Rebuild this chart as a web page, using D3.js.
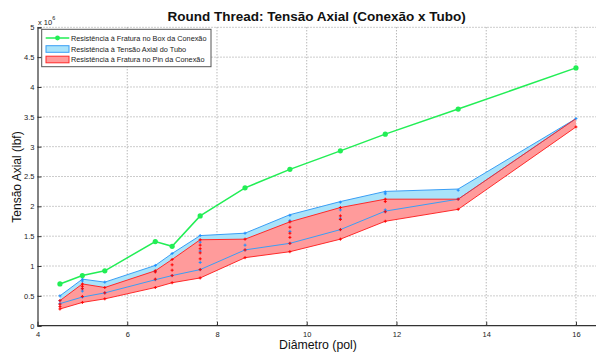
<!DOCTYPE html>
<html><head><meta charset="utf-8">
<script src="https://cdn.jsdelivr.net/npm/d3@7"></script>
<style>html,body{margin:0;padding:0;background:#fff;}svg{display:block;font-family:"Liberation Sans",Arial,sans-serif;}</style>
</head><body><svg id="c" width="596" height="354"></svg>
<script>
// values in units of 10^6 lbf
const diametros = [4.5, 5, 5.5, 6.625, 7, 7.625, 8.625, 9.625, 10.75, 11.75, 13.375, 16];
const boxFratura = [0.70, 0.84, 0.92, 1.41, 1.33, 1.84, 2.31, 2.62, 2.93, 3.21, 3.63, 4.32];
const tuboMax = [0.50, 0.78, 0.73, 1.01, 1.21, 1.51, 1.55, 1.86, 2.08, 2.25, 2.29, 3.47];
const tuboMin = [0.37, 0.48, 0.55, 0.77, 0.84, 0.94, 1.27, 1.38, 1.61, 1.92, 2.12, 3.47];
const pinMax = [0.42, 0.70, 0.64, 0.92, 1.11, 1.44, 1.45, 1.74, 1.98, 2.12, 2.12, 3.47];
const pinMin = [0.28, 0.39, 0.45, 0.64, 0.72, 0.80, 1.14, 1.24, 1.45, 1.75, 1.95, 3.33];
const pinPontos = [
  [0.28, 0.32, 0.36, 0.42], [0.39, 0.49, 0.62, 0.66, 0.70], [0.45, 0.55, 0.64],
  [0.64, 0.78, 0.90, 0.92], [0.72, 0.84, 0.93, 1.02, 1.11], [0.80, 0.94, 1.12, 1.22, 1.29, 1.35, 1.44],
  [1.14, 1.27, 1.45], [1.24, 1.38, 1.48, 1.55, 1.65, 1.74], [1.45, 1.61, 1.78, 1.84, 1.98],
  [1.75, 1.91, 2.08, 2.12], [1.95, 2.12], [3.33]
];
const tuboPontos = [
  [0.37, 0.42, 0.50], [0.48, 0.58, 0.62, 0.75, 0.78], [0.55, 0.73],
  [0.77, 0.91, 1.01], [0.84, 1.21], [0.94, 1.06, 1.25, 1.40, 1.51],
  [1.27, 1.35, 1.55], [1.38, 1.58, 1.76, 1.85], [1.61, 1.80, 1.94, 2.07],
  [1.91, 1.94, 2.21, 2.24], [2.12, 2.27], [3.47]
];
const xTicks = [4, 6, 8, 10, 12, 14, 16];
const yTicks = [0, 0.5, 1, 1.5, 2, 2.5, 3, 3.5, 4, 4.5, 5];
const legendLabels = ["Resistência à Fratura no Box da Conexão", "Resistência à Tensão Axial do Tubo", "Resistência à Fratura no Pin da Conexão"];

const svg = d3.select("#c");
const x = d3.scaleLinear().domain([4, 16.5]).range([37.5, 598.4]);
const y = d3.scaleLinear().domain([0, 5]).range([325.7, 27.3]);
const green = "#22ee55", blue = "#3a9ef5", red = "#ff2a2a";
const blueFill = "#a9e3fa", redFill = "#ff9b9b";

// grid
const g = svg.append("g");
g.selectAll(".gx").data(xTicks.filter(d => d > 4)).join("line")
  .attr("x1", d => x(d)).attr("x2", d => x(d)).attr("y1", y(5)).attr("y2", y(0))
  .attr("stroke", "#999").attr("stroke-width", 1).attr("stroke-dasharray", "1,2");
g.selectAll(".gy").data(yTicks.filter(d => d > 0)).join("line")
  .attr("x1", x(4)).attr("x2", 598).attr("y1", d => y(d)).attr("y2", d => y(d))
  .attr("stroke", "#999").attr("stroke-width", 1).attr("stroke-dasharray", "1,2");

const idx = d3.range(diametros.length);
const areaTubo = d3.area().x(i => x(diametros[i])).y0(i => y(tuboMin[i])).y1(i => y(tuboMax[i]));
const areaPin = d3.area().x(i => x(diametros[i])).y0(i => y(pinMin[i])).y1(i => y(pinMax[i]));
svg.append("path").attr("d", areaTubo(idx)).attr("fill", blueFill);
svg.append("path").attr("d", areaPin(idx)).attr("fill", redFill);

const line = arr => d3.line().x(i => x(diametros[i])).y(i => y(arr[i]))(idx);
[[tuboMax, blue], [tuboMin, blue]].forEach(([a, c]) =>
  svg.append("path").attr("d", line(a)).attr("fill", "none").attr("stroke", c).attr("stroke-width", 1));
[[pinMax, red], [pinMin, red]].forEach(([a, c]) =>
  svg.append("path").attr("d", line(a)).attr("fill", "none").attr("stroke", c).attr("stroke-width", 1));

// plus markers
function plus(sel, px, py, c) {
  sel.append("path").attr("d", `M${px-1.5},${py}H${px+1.5}M${px},${py-1.5}V${py+1.5}`)
    .attr("stroke", c).attr("stroke-width", 1);
}
const mk = svg.append("g");
tuboPontos.forEach((arr, i) => arr.forEach(v => plus(mk, x(diametros[i]), y(v), "#1e8fff")));
pinPontos.forEach((arr, i) => arr.forEach(v => plus(mk, x(diametros[i]), y(v), "#ff0000")));

// green series
svg.append("path").attr("d", line(boxFratura)).attr("fill", "none").attr("stroke", green).attr("stroke-width", 1.5);
svg.selectAll(".gm").data(idx).join("circle").attr("cx", i => x(diametros[i])).attr("cy", i => y(boxFratura[i]))
  .attr("r", 2.6).attr("fill", green);

// axes
const ax = svg.append("g").attr("transform", `translate(0,${y(0)})`)
  .call(d3.axisBottom(x).tickValues(xTicks).tickSize(-4).tickPadding(6).tickFormat(d3.format("d")));
const ay = svg.append("g").attr("transform", `translate(${x(4)},0)`)
  .call(d3.axisLeft(y).tickValues(yTicks).tickSize(-4).tickPadding(3).tickFormat(d => d));
[ax, ay].forEach(a => {
  a.select(".domain").attr("stroke", "#333").attr("stroke-width", 1.2);
  a.selectAll(".tick line").attr("stroke", "#333");
  a.selectAll("text").attr("font-size", 7.5).attr("fill", "#222").attr("font-family", "Liberation Sans, Arial");
});
ax.select(".domain").attr("d", `M${x(4)},0H598`);

// multiplier
const mt = svg.append("text").attr("x", 38).attr("y", 25).attr("font-size", 7.5).attr("fill", "#222");
mt.append("tspan").text("x 10");
mt.append("tspan").attr("dy", -5).attr("font-size", 5.5).text("6");

// title and labels
svg.append("text").attr("x", 316.7).attr("y", 20.5).attr("text-anchor", "middle")
  .attr("font-size", 13.5).attr("font-weight", "bold").attr("fill", "#111")
  .text("Round Thread: Tensão Axial (Conexão x Tubo)");
svg.append("text").attr("x", 318).attr("y", 349).attr("text-anchor", "middle")
  .attr("font-size", 12.3).attr("fill", "#111").text("Diâmetro (pol)");
svg.append("text").attr("transform", "translate(20.5,177) rotate(-90)").attr("text-anchor", "middle")
  .attr("font-size", 12).attr("fill", "#111").text("Tensão Axial (lbf)");

// legend
const lg = svg.append("g");
lg.append("rect").attr("x", 41.7).attr("y", 29.3).attr("width", 169.3).attr("height", 37.4)
  .attr("fill", "#fff").attr("stroke", "#555").attr("stroke-width", 1);
const ly = [38, 49, 59.5];
lg.append("line").attr("x1", 45.7).attr("x2", 69.3).attr("y1", ly[0]).attr("y2", ly[0]).attr("stroke", green).attr("stroke-width", 1.5);
lg.append("circle").attr("cx", 57.5).attr("cy", ly[0]).attr("r", 2.4).attr("fill", green);
lg.append("rect").attr("x", 46).attr("y", ly[1] - 3.3).attr("width", 23).attr("height", 6.6)
  .attr("fill", blueFill).attr("stroke", blue).attr("stroke-width", 1);
lg.append("rect").attr("x", 46).attr("y", ly[2] - 3.3).attr("width", 23).attr("height", 6.6)
  .attr("fill", redFill).attr("stroke", red).attr("stroke-width", 1);
lg.selectAll(".lt").data(legendLabels).join("text").attr("x", 71).attr("y", (d, i) => ly[i] + 2.6)
  .attr("font-size", 7.3).attr("fill", "#222").text(d => d);
</script></body></html>
